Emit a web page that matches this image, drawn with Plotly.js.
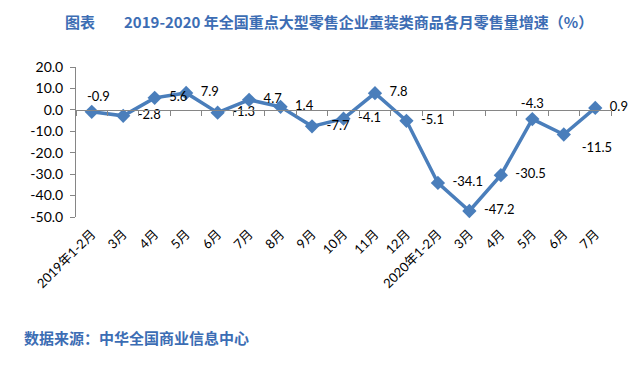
<!DOCTYPE html>
<html>
<head>
<meta charset="utf-8">
<script src="https://cdn.plot.ly/plotly-3.0.1.min.js"></script>
<style>html,body{margin:0;padding:0;background:#fff;}#chart{width:640px;height:378px;}</style>
</head>
<body>
<div id="chart"></div>
<script>
var categories = ['2019年1-2月','3月','4月','5月','6月','7月','8月','9月','10月','11月','12月','2020年1-2月','3月','4月','5月','6月','7月'];
var values = [-0.9, -2.8, 5.6, 7.9, -1.3, 4.7, 1.4, -7.7, -4.1, 7.8, -5.1, -34.1, -47.2, -30.5, -4.3, -11.5, 0.9];
var labelPositions = ['top center','middle right','middle right','middle right','middle right','middle right','middle right','middle right','middle right','middle right','middle right','middle right','middle right','middle right','top center','bottom right','middle right'];
var yTicks = [20, 10, 0, -10, -20, -30, -40, -50];
var titleText = '2019-2020 年全国重点大型零售企业童装类商品各月零售量增速（%）';
var sourceText = '数据来源：中华全国商业信息中心';

var idx = categories.map(function(c, i){ return i; });
var boundaries = [];
for (var b = 0; b <= categories.length; b++) boundaries.push(b - 0.5);

var blue = '#4A7EBB';
var labelFont = {family: 'Lato, "Noto Sans CJK SC", sans-serif', size: 13, color: '#000'};
var NB = '\u00a0';
var labelTexts = values.map(function(v, i){
  var t = v.toFixed(1);
  var pos = labelPositions[i];
  if (pos === 'middle right') return NB + NB + t;
  if (pos === 'bottom right') return NB + NB + NB + t;
  if (i === 0) return NB + NB + NB + NB + t;
  return t;
});

var traces = [
  {
    x: idx, y: values, type: 'scatter', mode: 'lines+markers+text',
    line: {color: blue, width: 3.5},
    marker: {symbol: 'diamond', size: 11, color: blue},
    text: labelTexts,
    textposition: labelPositions,
    textfont: labelFont,
    cliponaxis: false,
    hoverinfo: 'skip'
  },
  {
    x: idx, y: values, xaxis: 'x2', type: 'scatter', mode: 'markers',
    marker: {opacity: 0}, hoverinfo: 'skip', showlegend: false
  }
];

var layout = {
  width: 640, height: 378,
  margin: {l: 76, r: 29, t: 67, b: 161},
  paper_bgcolor: '#fff', plot_bgcolor: '#fff',
  showlegend: false,
  xaxis: {
    range: [-0.5, categories.length - 0.5],
    tickvals: idx, ticktext: categories,
    tickangle: -45,
    tickfont: {family: 'Lato, "Noto Sans CJK SC", sans-serif', size: 13, color: '#000'},
    showgrid: false, zeroline: false, showline: false, ticks: '',
    ticklabelstandoff: 6
  },
  xaxis2: {
    overlaying: 'x', anchor: 'free', position: 50/70,
    range: [-0.5, categories.length - 0.5],
    tickvals: boundaries, showticklabels: false,
    ticks: 'outside', ticklen: 5, tickcolor: '#868686', tickwidth: 1,
    showline: true, linecolor: '#868686', linewidth: 1,
    showgrid: false, zeroline: false
  },
  yaxis: {
    range: [-50, 20], tickvals: yTicks,
    ticktext: yTicks.map(function(v){ return v.toFixed(1); }),
    tickfont: {family: 'Lato, sans-serif', size: 14, color: '#000'},
    showline: true, linecolor: '#868686', linewidth: 1,
    ticks: 'outside', ticklen: 5, tickcolor: '#868686',
    showgrid: false, zeroline: false,
    ticklabelstandoff: 4
  },
  annotations: [
    {text: '<b>图表</b>', xref: 'paper', yref: 'paper', x: (63-76)/535, y: (217-21)/150,
     xanchor: 'left', yanchor: 'middle', showarrow: false,
     font: {family: '"Noto Sans CJK SC", sans-serif', size: 15, color: '#3C6DB4'}},
    {text: '<b>' + titleText + '</b>', xref: 'paper', yref: 'paper', x: (122-76)/535, y: (217-21)/150,
     xanchor: 'left', yanchor: 'middle', showarrow: false,
     font: {family: '"Noto Sans CJK SC", sans-serif', size: 15, color: '#3C6DB4'}},
    {text: '<b>' + sourceText + '</b>', xref: 'paper', yref: 'paper', x: (22-76)/535, y: (217-337)/150,
     xanchor: 'left', yanchor: 'middle', showarrow: false,
     font: {family: '"Noto Sans CJK SC", sans-serif', size: 15, color: '#3C6DB4'}}
  ]
};

Plotly.newPlot('chart', traces, layout, {displayModeBar: false, staticPlot: true});
</script>
</body>
</html>
